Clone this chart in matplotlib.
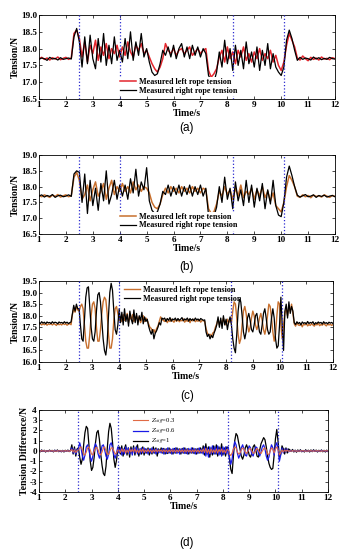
import numpy as np
import matplotlib
matplotlib.use("Agg")
import matplotlib.pyplot as plt

plt.rcParams['font.family'] = ['Liberation Serif', 'DejaVu Serif']
plt.rcParams['mathtext.fontset'] = 'stix'
plt.rcParams['axes.unicode_minus'] = False

# ---------------- data ----------------
switch_times = [2.5, 4.0, 8.2, 10.1]

time_coarse = np.linspace(1.0, 12.0, 111)   # 0.1 s sampling (panels a, b)
time_fine = np.linspace(1.0, 12.0, 221)     # 0.05 s sampling (panels c, d)

a_left = ([17.70, 17.74, 17.68, 17.72, 17.66, 17.73, 17.69, 17.75, 17.67, 17.71, 17.74, 17.68, 17.72]
          + [18.45, 18.55]
          + [18.30, 17.75, 18.20, 17.60, 18.10, 17.85, 18.25, 17.65, 18.05, 17.80, 18.15, 17.70, 18.00, 17.85, 18.10, 17.75]
          + [18.05, 17.80, 18.20, 17.90, 17.75, 18.10, 17.95, 18.15, 17.85, 17.95]
          + [17.75, 17.55, 17.40, 17.30, 17.45, 17.70]
          + [18.15, 17.95, 17.85, 18.00, 17.80, 17.95, 18.00, 17.85, 17.95, 18.05, 17.80, 17.90, 18.00, 17.85, 17.95, 18.00]
          + [17.35, 17.15, 17.25, 17.40]
          + [17.75, 17.95, 17.60, 18.05, 17.70, 17.90, 17.55, 17.95, 17.75, 18.05, 17.65, 17.85, 17.60, 17.90, 17.70, 18.00, 17.65, 17.85, 17.70, 17.95, 17.60, 17.80, 17.50, 17.35, 17.60]
          + [18.10, 18.45, 18.25, 18.05]
          + [17.72, 17.66, 17.78, 17.70, 17.64, 17.74, 17.68, 17.72, 17.66, 17.75, 17.69, 17.71, 17.67, 17.73, 17.70])

a_right = ([17.68, 17.72, 17.70, 17.65, 17.74, 17.69, 17.71, 17.66, 17.73, 17.68, 17.70, 17.72, 17.69]
           + [18.35, 18.60]
           + [18.20, 17.45, 18.35, 17.55, 18.40, 17.70, 17.40, 18.30, 17.60, 18.45, 17.50, 18.10, 17.55, 18.35, 17.65, 17.95]
           + [17.60, 18.30, 17.70, 18.50, 17.65, 18.20, 17.80, 18.45, 17.75, 18.00]
           + [17.60, 17.30, 17.20, 17.25, 17.55, 17.95]
           + [17.80, 18.05, 17.75, 18.10, 17.70, 18.00, 18.15, 17.75, 18.05, 17.70, 18.10, 17.80, 18.05, 17.75, 18.00, 17.85]
           + [17.20, 17.05, 17.00, 17.30]
           + [17.90, 17.45, 18.25, 17.55, 18.00, 17.35, 18.10, 17.50, 17.95, 17.40, 18.20, 17.55, 17.90, 17.45, 18.05, 17.35, 17.95, 17.50, 18.15, 17.40, 17.85, 17.45, 17.30, 17.20, 17.45]
           + [18.25, 18.55, 18.30, 17.95]
           + [17.65, 17.74, 17.68, 17.72, 17.70, 17.66, 17.75, 17.69, 17.73, 17.67, 17.71, 17.68, 17.74, 17.70, 17.69])

b_left = ([17.72, 17.68, 17.74, 17.70, 17.66, 17.73, 17.69, 17.75, 17.67, 17.71, 17.74, 17.68, 17.72]
          + [18.30, 18.45]
          + [18.20, 17.60, 17.75, 18.05, 17.55, 17.90, 18.15, 17.70, 17.85, 18.10, 17.60, 17.95, 18.20, 17.75, 18.00, 17.85]
          + [18.10, 17.85, 18.00, 17.80, 18.15, 17.90, 18.05, 17.85, 18.00, 17.95]
          + [17.80, 17.50, 17.35, 17.30, 17.45, 17.75]
          + [17.95, 17.80, 18.00, 17.85, 17.95, 17.80, 18.00, 17.85, 17.95, 17.80, 18.00, 17.85, 17.95, 17.80, 17.95, 17.90]
          + [17.30, 17.15, 17.20, 17.45]
          + [17.85, 17.70, 18.00, 17.75, 17.90, 17.60, 17.95, 17.70, 18.05, 17.65, 17.85, 17.75, 17.95, 17.60, 17.90, 17.70, 18.00, 17.65, 17.85, 17.55, 17.80, 17.40, 17.30, 17.20, 17.50]
          + [18.00, 18.35, 18.20, 18.00]
          + [17.70, 17.66, 17.74, 17.68, 17.72, 17.65, 17.73, 17.69, 17.71, 17.67, 17.74, 17.70, 17.66, 17.72, 17.69])

b_right = ([17.70, 17.74, 17.67, 17.72, 17.69, 17.75, 17.66, 17.71, 17.73, 17.68, 17.70, 17.74, 17.69]
           + [18.40, 18.50]
           + [18.45, 17.50, 18.40, 17.15, 18.20, 17.40, 17.95, 17.25, 18.10, 17.55, 18.50, 17.45, 17.75, 18.20, 17.60, 18.05]
           + [17.70, 18.05, 17.60, 18.25, 17.80, 18.55, 17.70, 18.15, 17.90, 18.60]
           + [17.55, 17.25, 17.15, 17.20, 17.45, 17.85]
           + [17.75, 18.05, 17.70, 18.00, 17.75, 18.05, 17.70, 18.00, 17.75, 18.05, 17.70, 18.00, 17.75, 18.05, 17.70, 17.95]
           + [17.10, 17.00, 17.05, 17.35]
           + [18.00, 17.50, 18.30, 17.60, 17.95, 17.30, 18.15, 17.55, 17.90, 17.40, 18.20, 17.50, 18.05, 17.35, 17.95, 17.55, 18.10, 17.30, 17.90, 17.45, 18.20, 17.40, 17.10, 17.05, 17.50]
           + [18.30, 18.65, 18.35, 18.00]
           + [17.73, 17.67, 17.71, 17.75, 17.68, 17.70, 17.74, 17.66, 17.72, 17.69, 17.73, 17.67, 17.70, 17.72, 17.68])

c_left = ([17.62, 17.66, 17.60, 17.65, 17.61, 17.67, 17.59, 17.64, 17.62, 17.66, 17.60, 17.65, 17.63, 17.58, 17.66, 17.61, 17.64, 17.60, 17.67, 17.62, 17.65, 17.59, 17.63, 17.66, 17.61]
          + [18.05, 18.30, 18.15, 18.40, 18.25]
          + [18.2, 18.4, 18.5, 18.3, 17.6, 16.9, 16.6, 16.6, 17.2, 18.0, 18.5, 18.6, 18.3, 17.5, 16.9, 16.9, 17.4, 18.1, 18.6, 18.8, 18.7, 18.1, 17.2, 16.6, 16.6, 17.0, 17.8, 18.3, 18.4, 18.1, 17.8]
          + [17.95, 17.75, 18.05, 17.80, 17.90, 18.10, 17.70, 17.95, 17.85, 18.05, 17.75, 17.90, 18.00, 17.80, 17.95, 17.70, 17.85, 18.00, 17.75, 17.90, 17.80]
          + [17.65, 17.50, 17.45, 17.30, 17.40, 17.25, 17.45, 17.55, 17.75, 17.95, 17.85]
          + [17.80, 17.75, 17.85, 17.70, 17.80, 17.75, 17.85, 17.78, 17.72, 17.82, 17.76, 17.84, 17.74, 17.80, 17.78, 17.86, 17.72, 17.80, 17.76, 17.84, 17.70, 17.82, 17.78, 17.85, 17.74, 17.80, 17.76, 17.83, 17.72, 17.80, 17.78, 17.75]
          + [17.45, 17.25, 17.15, 17.20, 17.10, 17.25, 17.30, 17.50, 17.65]
          + [17.85, 17.60, 17.80, 17.65, 17.90, 17.70, 17.60, 17.85, 17.70, 17.80]
          + [17.7, 18.2, 18.6, 18.5, 17.9, 17.2, 16.8, 17.0, 17.6, 18.2, 18.4, 18.1, 17.6, 17.3, 17.5, 17.9, 18.2, 18.0, 17.6, 17.4,
             17.6, 17.9, 18.1, 17.8, 17.4, 17.2, 17.5, 18.0, 18.5, 18.4, 17.9, 17.3, 16.9, 17.2, 18.0, 18.6, 18.5, 17.6, 17.0, 17.6]
          + [18.1, 18.3, 18.0, 18.4, 18.2, 18.5, 18.1]
          + [17.65, 17.55, 17.70, 17.60, 17.58, 17.66, 17.52, 17.64, 17.60, 17.68, 17.56, 17.62, 17.58, 17.66, 17.60, 17.55, 17.64, 17.60, 17.67, 17.57, 17.62, 17.59, 17.66, 17.61, 17.56, 17.64, 17.60, 17.63, 17.58, 17.62])

c_right = ([17.70, 17.66, 17.74, 17.68, 17.72, 17.65, 17.73, 17.69, 17.71, 17.66, 17.74, 17.68, 17.72, 17.70, 17.65, 17.73, 17.69, 17.71, 17.67, 17.74, 17.68, 17.72, 17.66, 17.70, 17.73]
           + [18.10, 18.45, 18.20, 18.50, 18.30]
           + [18.3, 17.6, 17.0, 16.9, 17.8, 18.8, 19.2, 19.25, 18.4, 17.5, 17.0, 16.9, 17.3, 18.2, 18.9, 19.0, 18.6, 17.8, 17.0, 16.5, 16.3, 16.8, 18.0, 19.0, 19.4, 19.1, 18.2, 17.4, 17.2, 17.6, 18.3]
           + [17.70, 18.15, 17.60, 18.30, 17.75, 18.05, 17.55, 18.20, 17.85, 17.65, 18.25, 17.70, 18.10, 17.60, 18.00, 17.80, 18.15, 17.65, 17.95, 17.75, 17.85]
           + [17.55, 17.35, 17.20, 17.40, 17.00, 17.25, 17.35, 17.50, 17.70, 17.60, 17.90]
           + [17.85, 17.90, 17.75, 17.88, 17.80, 17.92, 17.76, 17.86, 17.82, 17.90, 17.78, 17.88, 17.80, 17.85, 17.92, 17.78, 17.86, 17.82, 17.90, 17.76, 17.88, 17.80, 17.86, 17.78, 17.90, 17.82, 17.86, 17.78, 17.88, 17.84, 17.80, 17.82]
           + [17.30, 17.10, 17.20, 17.00, 17.15, 17.05, 17.25, 17.40, 17.60]
           + [17.95, 17.50, 17.90, 17.45, 18.00, 17.60, 17.85, 17.40, 17.75, 17.95]
           + [17.6, 17.0, 16.6, 16.4, 17.2, 18.2, 18.7, 18.6, 18.0, 17.3, 17.0, 17.3, 17.9, 18.1, 17.8, 17.4, 17.3, 17.6, 18.0, 18.1,
              17.7, 17.3, 17.2, 17.6, 18.1, 18.3, 17.9, 17.4, 17.2, 17.3, 17.9, 18.3, 17.9, 17.0, 16.6, 16.7, 17.6, 18.8, 17.6, 16.5]
           + [18.2, 18.5, 17.9, 18.6, 18.1, 18.4, 18.2]
           + [17.70, 17.62, 17.74, 17.66, 17.71, 17.60, 17.73, 17.67, 17.70, 17.64, 17.75, 17.66, 17.71, 17.68, 17.74, 17.62, 17.70, 17.66, 17.73, 17.68, 17.71, 17.64, 17.74, 17.67, 17.70, 17.65, 17.72, 17.68, 17.71, 17.66])

d_z1 = ([0.05, -0.08, 0.10, -0.05, 0.07, -0.10, 0.04, -0.06, 0.09, -0.04, 0.06, -0.09, 0.08, -0.05, 0.10, -0.07, 0.05, -0.08, 0.06, -0.10, 0.07, -0.04, 0.09, -0.06, 0.05]
        + [0.6, -0.3, 0.4, -0.5, 0.2]
        + [0.3, -0.6, -1.3, -0.8, 0.6, 1.8, 2.4, 2.2, 0.6, -1.0, -1.9, -1.6, -0.6, 0.8, 1.8, 2.0, 1.1, -0.3, -1.4, -2.2, -2.4, -1.5, 0.3, 1.9, 2.7, 2.2, 0.8, -0.8, -1.6, -0.9, 0.2]
        + [0.4, -0.3, 0.5, -0.5, 0.2, 0.6, -0.4, 0.3, -0.6, 0.4, -0.2, 0.5, -0.4, 0.3, 0.6, -0.5, 0.2, -0.3, 0.4, -0.4, 0.2]
        + [-0.2, 0.3, -0.4, 0.2, -0.3, 0.4, -0.2, 0.3, -0.5, 0.2, -0.1]
        + [0.3, -0.2, 0.25, -0.3, 0.2, -0.25, 0.3, -0.2, 0.15, -0.3, 0.25, -0.2, 0.3, -0.15, 0.2, -0.3, 0.25, -0.2, 0.3, -0.25, 0.2, -0.3, 0.15, -0.2, 0.3, -0.25, 0.2, -0.3, 0.25, -0.2, 0.3, -0.2]
        + [0.5, -0.4, 0.7, -0.3, 0.4, -0.6, 0.3, -0.4, 0.5]
        + [-0.3, 0.6, -0.5, 0.4, -0.3, 0.7, -0.4, 0.3, -0.5, 0.4]
        + [0.3, -0.8, -1.8, -2.2, -0.5, 1.0, 1.7, 1.5, 0.8, 0.2, -0.5, -0.8, -0.4, 0.3, 0.6, 0.2, -0.4, -0.6, -0.2, 0.4,
           0.6, 0.1, -0.5, -0.6, 0.1, 0.7, 1.0, 1.3, 1.1, 0.4, -0.5, -1.2, -1.6, -1.8, -1.7, -0.4, 1.2, 2.1, 0.9, -0.6]
        + [-0.3, 0.5, 0.2, -0.3, 0.3, -0.2, 0.2]
        + [0.1, -0.05, 0.15, -0.1, 0.08, -0.12, 0.1, -0.06, 0.12, -0.08, 0.05, -0.1, 0.12, -0.05, 0.08, -0.1, 0.1, -0.07, 0.12, -0.05, 0.09, -0.1, 0.07, -0.06, 0.1, -0.08, 0.06, -0.1, 0.08, -0.05])

d_z06 = ([0.03, -0.05, 0.06, -0.03, 0.04, -0.06, 0.02, -0.04, 0.05, -0.03, 0.04, -0.05, 0.06, -0.02, 0.05, -0.04, 0.03, -0.06, 0.04, -0.05, 0.03, -0.02, 0.05, -0.04, 0.03]
         + [0.3, -0.2, 0.2, -0.3, 0.1]
         + [0.2, 0.8, 0.3, -0.5, -0.9, -0.4, 0.4, 0.6, 0.2, -0.6, -1.0, -0.5, 0.3, 0.7, 0.4, -0.3, -0.7, -0.2, 0.5, 0.6, 0.1, -0.5, -0.8, -0.3, 0.6, 0.8, 0.3, -0.4, -0.7, -0.2, 0.4]
         + [-0.2, 0.3, -0.4, 0.2, -0.3, 0.4, -0.2, 0.3, -0.3, 0.2, -0.4, 0.3, -0.2, 0.4, -0.3, 0.2, -0.3, 0.3, -0.2, 0.3, -0.2]
         + [0.2, -0.3, 0.2, -0.2, 0.3, -0.2, 0.2, -0.3, 0.2, -0.2, 0.1]
         + [-0.2, 0.25, -0.3, 0.2, -0.25, 0.3, -0.2, 0.2, -0.3, 0.25, -0.2, 0.3, -0.25, 0.2, -0.3, 0.2, -0.2, 0.3, -0.25, 0.2, -0.3, 0.25, -0.2, 0.3, -0.2, 0.25, -0.3, 0.2, -0.25, 0.3, -0.2, 0.2]
         + [-0.3, 0.4, -0.5, 0.3, -0.6, 0.4, -0.3, 0.5, -0.3]
         + [0.4, -0.3, 0.5, -0.4, 0.3, -0.5, 0.4, -0.3, 0.4, -0.3]
         + [0.4, -0.6, -1.3, -0.8, 0.2, 0.9, 0.6, -0.2, -0.7, -0.4, 0.3, 0.6, 0.2, -0.4, -0.5, 0.1, 0.5, 0.3, -0.3, -0.5,
            0.0, 0.4, 0.3, -0.2, -0.5, -0.1, 0.4, 0.6, 0.2, -0.5, -0.9, -0.6, 0.1, 0.6, 0.3, -0.4, 0.5, 0.8, 0.2, -1.0]
         + [-0.4, 0.3, -0.2, 0.2, -0.1, 0.2, -0.1]
         + [0.05, -0.04, 0.06, -0.03, 0.05, -0.06, 0.04, -0.03, 0.06, -0.05, 0.03, -0.04, 0.05, -0.06, 0.04, -0.02, 0.05, -0.04, 0.06, -0.03, 0.04, -0.05, 0.03, -0.04, 0.06, -0.03, 0.05, -0.04, 0.03, -0.05])

d_z03 = ([0.02, -0.03, 0.04, -0.02, 0.03, -0.04, 0.02, -0.03, 0.03, -0.02, 0.04, -0.03, 0.02, -0.04, 0.03, -0.02, 0.04, -0.03, 0.02, -0.03, 0.04, -0.02, 0.03, -0.04, 0.02]
         + [0.15, -0.1, 0.1, -0.15, 0.05]
         + [0.1, 0.3, 0.4, 0.1, -0.3, -0.4, -0.1, 0.3, 0.4, 0.1, -0.3, -0.4, 0.0, 0.3, 0.35, 0.1, -0.25, -0.4, -0.1, 0.3, 0.4, 0.0, -0.3, -0.35, 0.0, 0.3, 0.3, 0.0, -0.3, -0.2, 0.1]
         + [0.1, -0.15, 0.2, -0.1, 0.15, -0.2, 0.1, -0.15, 0.2, -0.1, 0.15, -0.1, 0.2, -0.15, 0.1, -0.2, 0.15, -0.1, 0.2, -0.15, 0.1]
         + [-0.1, 0.15, -0.1, 0.1, -0.15, 0.1, -0.1, 0.15, -0.1, 0.1, -0.05]
         + [0.1, -0.1, 0.12, -0.1, 0.1, -0.12, 0.1, -0.1, 0.12, -0.1, 0.1, -0.12, 0.1, -0.1, 0.12, -0.1, 0.1, -0.12, 0.1, -0.1, 0.12, -0.1, 0.1, -0.12, 0.1, -0.1, 0.12, -0.1, 0.1, -0.12, 0.1, -0.1]
         + [0.2, -0.15, 0.25, -0.2, 0.15, -0.25, 0.2, -0.15, 0.1]
         + [-0.15, 0.2, -0.2, 0.15, -0.1, 0.2, -0.15, 0.1, -0.2, 0.15]
         + [0.1, -0.3, -0.45, -0.2, 0.2, 0.4, 0.3, -0.1, -0.3, -0.2, 0.1, 0.3, 0.2, -0.1, -0.25, -0.05, 0.2, 0.25, 0.0, -0.2,
            -0.2, 0.1, 0.25, 0.1, -0.15, -0.25, 0.0, 0.2, 0.3, 0.1, -0.3, -0.35, 0.0, 0.3, 0.2, -0.2, 0.2, 0.4, 0.1, -0.4]
         + [-0.15, 0.1, -0.1, 0.1, -0.05, 0.1, -0.05]
         + [0.02, -0.03, 0.04, -0.02, 0.03, -0.04, 0.02, -0.03, 0.03, -0.02, 0.04, -0.03, 0.02, -0.04, 0.03, -0.02, 0.04, -0.03, 0.02, -0.03, 0.04, -0.02, 0.03, -0.04, 0.02, -0.03, 0.04, -0.02, 0.03, -0.02])

x_ticks = list(range(1, 13))
y_ticks_ab = [16.5, 17.0, 17.5, 18.0, 18.5, 19.0]
y_ticks_c = [16.0, 16.5, 17.0, 17.5, 18.0, 18.5, 19.0, 19.5]
y_ticks_d = [-4, -3, -2, -1, 0, 1, 2, 3, 4]

# ---------------- style ----------------
RED = '#e3262d'
ORANGE = '#c8702e'
BLACK = '#000000'
DOT_BLUE = '#2a2ad0'
D_RED = '#e06a45'
D_BLUE = '#1a1ae6'

TICK_FS = 6.6
LAB_FS = 7.0
LEG_FS = 5.9

fig = plt.figure(figsize=(3.46, 5.5), dpi=100)

def style_axes(ax, yticks, ylim, ylabel, fmt):
    ax.set_xlim(1, 12)
    ax.set_ylim(*ylim)
    ax.set_xticks(x_ticks)
    ax.set_yticks(yticks)
    ax.set_xticklabels([str(v) for v in x_ticks], fontsize=TICK_FS, fontweight='bold')
    ax.set_yticklabels([fmt(v) for v in yticks], fontsize=TICK_FS, fontweight='bold')
    ax.tick_params(direction='in', length=2, width=0.5, top=True, right=True, pad=1.5)
    for s in ax.spines.values():
        s.set_linewidth(0.6)
    ax.set_xlabel('Time/s', fontsize=LAB_FS, fontweight='bold', labelpad=0.0)
    ax.set_ylabel(ylabel, fontsize=LAB_FS, fontweight='bold', labelpad=0.5)
    for t in switch_times:
        ax.axvline(t, color=DOT_BLUE, linestyle=':', linewidth=0.9, zorder=5)

def check(series, grid):
    if len(series) != len(grid):
        raise ValueError(f'length {len(series)} vs {len(grid)}')
    return series

fmt1 = lambda v: f'{v:.1f}'
fmti = lambda v: f'{v:d}'

# (a)
ax_a = fig.add_axes([0.1127, 0.82, 0.8555, 0.1527])
ax_a.plot(time_coarse, check(a_left, time_coarse), color=RED, lw=1.1, label='Measured left rope tension')
ax_a.plot(time_coarse, check(a_right, time_coarse), color=BLACK, lw=0.9, label='Measured right rope tension')
style_axes(ax_a, y_ticks_ab, (16.5, 19.0), 'Tension/N', fmt1)
leg = ax_a.legend(loc='lower left', bbox_to_anchor=(0.255, -0.01), frameon=True,
                  borderpad=0.15, handlelength=2.0, handletextpad=0.3, labelspacing=0.05,
                  prop={'weight': 'bold', 'size': LEG_FS})
leg.get_frame().set_edgecolor('none'); leg.get_frame().set_alpha(1.0); leg.set_zorder(10)

# (b)
ax_b = fig.add_axes([0.1127, 0.5745, 0.8555, 0.1436])
ax_b.plot(time_coarse, check(b_left, time_coarse), color=ORANGE, lw=1.1, label='Measured left rope tension')
ax_b.plot(time_coarse, check(b_right, time_coarse), color=BLACK, lw=0.9, label='Measured right rope tension')
style_axes(ax_b, y_ticks_ab, (16.5, 19.0), 'Tension/N', fmt1)
leg = ax_b.legend(loc='lower left', bbox_to_anchor=(0.255, -0.01), frameon=True,
                  borderpad=0.15, handlelength=2.0, handletextpad=0.3, labelspacing=0.05,
                  prop={'weight': 'bold', 'size': LEG_FS})
leg.get_frame().set_edgecolor('none'); leg.get_frame().set_alpha(1.0); leg.set_zorder(10)

# (c)
ax_c = fig.add_axes([0.1127, 0.3418, 0.8497, 0.1473])
ax_c.plot(time_fine, check(c_left, time_fine), color=ORANGE, lw=1.0, label='Measured left rope tension')
ax_c.plot(time_fine, check(c_right, time_fine), color=BLACK, lw=0.9, label='Measured right rope tension')
style_axes(ax_c, y_ticks_c, (16.0, 19.5), 'Tension/N', fmt1)
leg = ax_c.legend(loc='upper left', bbox_to_anchor=(0.27, 1.0), frameon=False,
                  borderpad=0.15, handlelength=2.0, handletextpad=0.3, labelspacing=0.05,
                  prop={'weight': 'bold', 'size': LEG_FS})

# (d)
ax_d = fig.add_axes([0.1127, 0.1055, 0.8353, 0.1491])
ax_d.plot(time_fine, check(d_z1, time_fine), color=BLACK, lw=0.9, label=r'$Z_{stiff}$=1')
ax_d.plot(time_fine, check(d_z06, time_fine), color=D_BLUE, lw=0.9, label=r'$Z_{stiff}$=0.6')
ax_d.plot(time_fine, check(d_z03, time_fine), color=D_RED, lw=0.8, label=r'$Z_{stiff}$=0.3')
style_axes(ax_d, y_ticks_d, (-4, 4), 'Tension Difference/N', fmti)
h, l = ax_d.get_legend_handles_labels()
leg = ax_d.legend(h[::-1], l[::-1], loc='upper left', bbox_to_anchor=(0.31, 0.97), frameon=False,
                  borderpad=0.1, handlelength=2.3, handletextpad=0.4, labelspacing=0.0,
                  prop={'size': 4.8})

# panel labels
for y, s in [(0.767, '(a)'), (0.5145, '(b)'), (0.28, '(c)'), (0.0127, '(d)')]:
    fig.text(0.54, y, s, ha='center', va='center', fontsize=8.5, family=['Liberation Sans', 'DejaVu Sans'])

fig.savefig('out.png', dpi=100)
